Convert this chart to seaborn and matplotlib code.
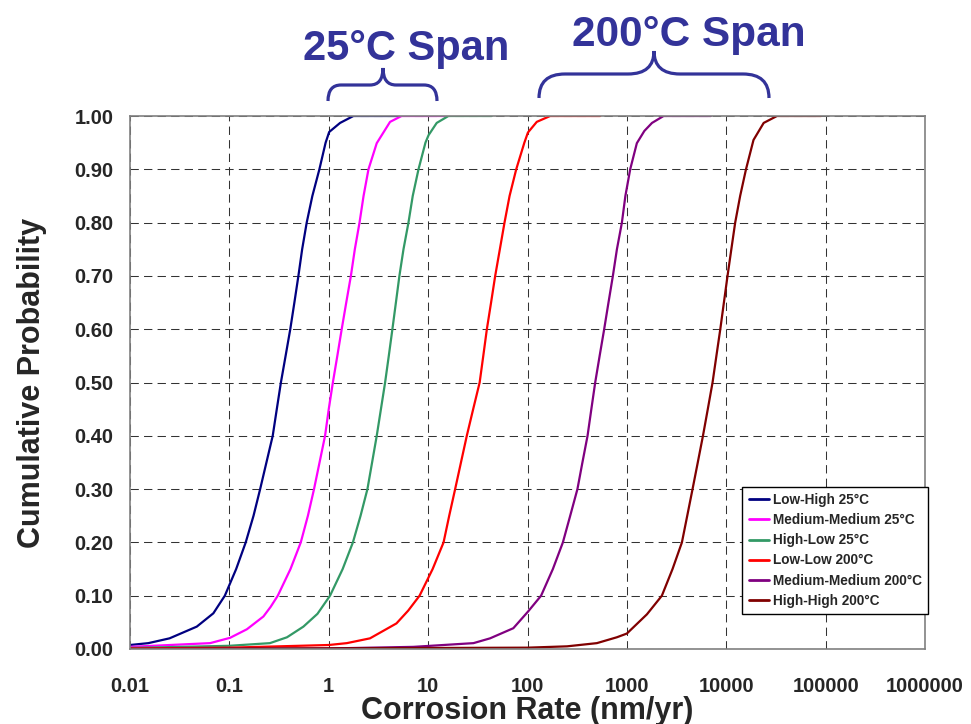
import matplotlib
matplotlib.use("Agg")
import matplotlib.pyplot as plt
from matplotlib.path import Path
from matplotlib.patches import PathPatch
from matplotlib.lines import Line2D
from matplotlib.transforms import Affine2D
import seaborn as sns
import pandas as pd

# ---- data: corrosion rate (nm/yr) vs cumulative probability ----
series_names = [
    "Low-High 25°C",
    "Medium-Medium 25°C",
    "High-Low 25°C",
    "Low-Low 200°C",
    "Medium-Medium 200°C",
    "High-High 200°C",
]
series_colors = ["#000080", "#FF00FF", "#339966", "#FF0000", "#800080", "#800000"]

low_high_25_rate = [0.01, 0.0153, 0.025, 0.047, 0.069, 0.090, 0.117, 0.146, 0.175, 0.204,
                    0.236, 0.273, 0.30, 0.33, 0.368, 0.41, 0.451, 0.495, 0.54, 0.60,
                    0.684, 0.805, 0.93, 1.01, 1.30, 1.77, 5.2]
low_high_25_prob = [0.0075, 0.011, 0.020, 0.042, 0.067, 0.10, 0.15, 0.20, 0.25, 0.30,
                    0.35, 0.40, 0.45, 0.50, 0.55, 0.60, 0.65, 0.70, 0.75, 0.80,
                    0.85, 0.90, 0.95, 0.97, 0.987, 1.0, 1.0]

med_med_25_rate = [0.01, 0.064, 0.1016, 0.15, 0.22, 0.26, 0.307, 0.412, 0.523, 0.617,
                   0.711, 0.808, 0.918, 1.0, 1.10, 1.22, 1.35, 1.50, 1.67, 1.83,
                   2.04, 2.24, 2.51, 3.04, 4.14, 5.4, 15.4]
med_med_25_prob = [0.004, 0.011, 0.021, 0.037, 0.061, 0.079, 0.10, 0.15, 0.20, 0.25,
                   0.30, 0.35, 0.40, 0.45, 0.50, 0.55, 0.60, 0.65, 0.70, 0.75,
                   0.80, 0.85, 0.90, 0.949, 0.989, 1.0, 1.0]

high_low_25_rate = [0.01, 0.10, 0.256, 0.38, 0.556, 0.77, 1.03, 1.38, 1.75, 2.09,
                    2.45, 2.73, 3.04, 3.35, 3.69, 4.02, 4.37, 4.74, 5.14, 5.65,
                    6.34, 7.0, 8.0, 9.4, 10.1, 12.2, 16.0, 43.7]
high_low_25_prob = [0.002, 0.006, 0.011, 0.022, 0.042, 0.066, 0.10, 0.15, 0.20, 0.25,
                    0.30, 0.35, 0.40, 0.45, 0.50, 0.55, 0.60, 0.65, 0.70, 0.75,
                    0.80, 0.85, 0.90, 0.95, 0.964, 0.987, 1.0, 1.0]

low_low_200_rate = [0.01, 0.1, 1.0, 1.52, 2.6, 4.8, 6.3, 8.2, 11.1, 14.3, 16.3, 18.7,
                    21.4, 24.5, 28.4, 33, 35.9, 39, 43, 47.3, 52.7, 58.7, 66, 77, 93,
                    101, 124, 169, 540]
low_low_200_prob = [0.001, 0.0025, 0.0075, 0.011, 0.020, 0.048, 0.072, 0.10, 0.15, 0.20,
                    0.25, 0.30, 0.35, 0.40, 0.45, 0.50, 0.55, 0.60, 0.65, 0.70, 0.75,
                    0.80, 0.85, 0.90, 0.95, 0.969, 0.989, 1.0, 1.0]

med_med_200_rate = [0.01, 1.0, 7.1, 28.6, 42, 72, 101, 137, 180, 227, 269, 318, 357,
                    402, 439, 480, 532, 591, 653, 723, 794, 891, 966, 1080, 1260, 1500,
                    1790, 2340, 7000]
med_med_200_prob = [0.0, 0.001, 0.004, 0.011, 0.020, 0.039, 0.070, 0.10, 0.15, 0.20,
                    0.25, 0.30, 0.35, 0.40, 0.45, 0.50, 0.55, 0.60, 0.65, 0.70, 0.75,
                    0.80, 0.85, 0.90, 0.949, 0.972, 0.987, 1.0, 1.0]

high_high_200_rate = [0.01, 100, 250, 499, 793, 1000, 1590, 2250, 2880, 3580, 4050,
                      4580, 5170, 5830, 6520, 7280, 7960, 8710, 9470, 10300, 11250,
                      12300, 13800, 15800, 18800, 23800, 32400, 90000]
high_high_200_prob = [0.0, 0.0025, 0.005, 0.011, 0.022, 0.029, 0.065, 0.10, 0.15, 0.20,
                      0.25, 0.30, 0.35, 0.40, 0.45, 0.50, 0.55, 0.60, 0.65, 0.70,
                      0.75, 0.80, 0.85, 0.90, 0.955, 0.987, 1.0, 1.0]

x_ticks = [0.01, 0.1, 1, 10, 100, 1000, 10000, 100000, 1000000]
x_tick_labels = ["0.01", "0.1", "1", "10", "100", "1000", "10000", "100000", "1000000"]
y_ticks = [0.0, 0.1, 0.2, 0.3, 0.4, 0.5, 0.6, 0.7, 0.8, 0.9, 1.0]
y_tick_labels = [f"{v:.2f}" for v in y_ticks]

rates = [low_high_25_rate, med_med_25_rate, high_low_25_rate,
         low_low_200_rate, med_med_200_rate, high_high_200_rate]
probs = [low_high_25_prob, med_med_25_prob, high_low_25_prob,
         low_low_200_prob, med_med_200_prob, high_high_200_prob]

frames = []
for name, r, p in zip(series_names, rates, probs):
    frames.append(pd.DataFrame({"rate": r, "prob": p, "series": name}))
df = pd.concat(frames, ignore_index=True)

# ---- style ----
sns.set_style("white")
plt.rcParams["font.family"] = ["Liberation Sans", "DejaVu Sans"]
plt.rcParams["font.weight"] = "bold"

W, H = 971, 724
fig = plt.figure(figsize=(W / 100, H / 100), dpi=100)
fig.patch.set_facecolor("white")
ax = fig.add_axes([130 / W, 1 - 649 / H, 795 / W, 533 / H])

palette = dict(zip(series_names, series_colors))
sns.lineplot(data=df, x="rate", y="prob", hue="series", hue_order=series_names,
             palette=palette, estimator=None, sort=False, linewidth=1.6,
             legend=False, ax=ax)

ax.set_xscale("log")
ax.set_xlim(0.01, 1000000)
ax.set_ylim(0, 1)
ax.set_xticks(x_ticks)
ax.set_xticklabels(x_tick_labels)
ax.xaxis.set_minor_locator(matplotlib.ticker.NullLocator())
ax.set_yticks(y_ticks)
ax.set_yticklabels(y_tick_labels)

ax.grid(True, which="major", color="#333333", linestyle=(0, (8, 5)), linewidth=0.75)
for s in ax.spines.values():
    s.set_color("#808080")
    s.set_linewidth(1.2)

ax.tick_params(axis="x", direction="out", length=8, width=1, color="#404040",
               labelsize=14.5, pad=12)
ax.tick_params(axis="y", direction="out", length=9, width=1, color="#404040",
               labelsize=14.5, pad=3)
for lab in ax.get_xticklabels() + ax.get_yticklabels():
    lab.set_fontweight("bold")

ax.set_xlabel("Corrosion Rate (nm/yr)", fontsize=22, fontweight="bold")
ax.set_ylabel("Cumulative Probability", fontsize=22, fontweight="bold")
ax.xaxis.set_label_coords(0.5, -0.088)
ax.yaxis.set_label_coords(-0.105, 0.5)

# ---- legend ----
handles = [Line2D([0], [0], color=c, lw=2) for c in series_colors]
leg = ax.legend(handles, series_names, loc="upper right", bbox_to_anchor=(1.004, 0.304),
                borderaxespad=0, frameon=True, fancybox=False, framealpha=1,
                edgecolor="black", prop={"size": 9.8, "weight": "bold"},
                handlelength=1.5, handletextpad=0.3, labelspacing=0.45,
                borderpad=0.45)
leg.get_frame().set_linewidth(1.0)

# ---- span braces and captions (figure pixel coordinates, y downward) ----
px = Affine2D().scale(1 / W, -1 / H).translate(0, 1) + fig.transFigure
brace_color = "#333399"


def brace(x0, x1, xm, y_end, y_bar, y_tip, r):
    verts = [
        (x0, y_end), (x0, y_bar), (x0 + r, y_bar),
        (xm - r, y_bar),
        (xm, y_bar), (xm, y_tip),
        (xm, y_bar), (xm + r, y_bar),
        (x1 - r, y_bar),
        (x1, y_bar), (x1, y_end),
    ]
    codes = [Path.MOVETO, Path.CURVE3, Path.CURVE3, Path.LINETO,
             Path.CURVE3, Path.CURVE3, Path.CURVE3, Path.CURVE3,
             Path.LINETO, Path.CURVE3, Path.CURVE3]
    patch = PathPatch(Path(verts, codes), facecolor="none", edgecolor=brace_color,
                      linewidth=2.3, transform=px, capstyle="butt")
    fig.add_artist(patch)


brace(328, 437, 383, 101, 85, 68, 13)
brace(539, 769, 654, 98, 74, 51, 26)

fig.text(303 / W, 1 - 60 / H, "25°C Span", fontsize=30, fontweight="bold",
         color=brace_color, ha="left", va="baseline")
fig.text(572 / W, 1 - 46 / H, "200°C Span", fontsize=30.5, fontweight="bold",
         color=brace_color, ha="left", va="baseline")

fig.savefig("out.png", dpi=100, facecolor="white")
